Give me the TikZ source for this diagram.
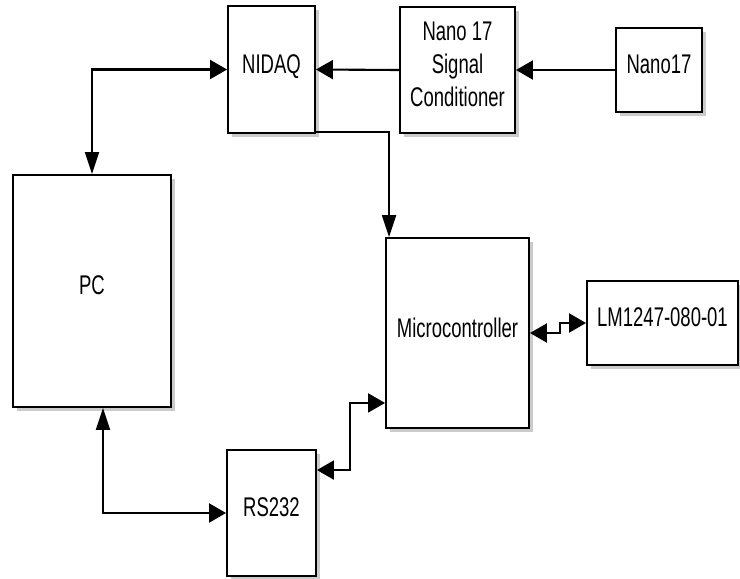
\documentclass[tikz,border=0pt]{standalone}
\usepackage{fontspec}
\setmainfont{Liberation Sans}[FakeStretch=0.685]
\usepackage{xcolor}
\definecolor{blkShadow}{gray}{0.55}
\usepackage{tikz}
\usetikzlibrary{calc,arrows.meta,shadows}

\begin{document}
\begin{tikzpicture}[x=1pt, y=-1pt,
  hd/.tip={Triangle[length=17pt,width=19pt]},
  vd/.tip={Triangle[length=22pt,width=14pt]},
  blk/.style={draw, line width=1.9pt, fill=white, inner sep=0pt,
    font=\fontsize{27}{33}\selectfont, align=center, text depth=11pt,
    drop shadow={shadow xshift=4pt, shadow yshift=-4pt, fill=blkShadow, opacity=0.45}},
  wire/.style={line width=2.1pt}]
  \useasboundingbox (0,0) rectangle (740,579);
  % ---- the blocks ----
  \node[blk, minimum width=87, minimum height=127] (nidaq) at (271.5,69.5) {NIDAQ};
  \node[blk, minimum width=115, minimum height=126] (cond) at (457.5,70) {Nano 17\\Signal\\Conditioner};
  \node[blk, minimum width=86, minimum height=84] (nano) at (659,70) {Nano17};
  \node[blk, minimum width=158, minimum height=232] (pc) at (92,291) {PC};
  \node[blk, minimum width=143, minimum height=190] (micro) at (457.5,333) {Microcontroller};
  \node[blk, minimum width=151, minimum height=84] (lm) at (662.5,323) {LM1247-080-01};
  \node[blk, minimum width=89, minimum height=126] (rs) at (271.5,513) {RS232};
  % ---- sensor chain, right to left ----
  \draw[wire, -{hd}] (nano.west) -- (cond.east);
  \draw[wire, -{hd}] (cond.west) -- (nidaq.east);
  % ---- links to the PC ----
  \draw[wire, {vd}-{hd}] (pc.north) |- (nidaq.west);
  \draw[wire, {vd}-{hd}] ($(pc.south)+(11,0)$) |- (rs.west);
  % ---- links to the microcontroller ----
  \draw[wire, -{vd}] ($(nidaq.south east)+(0,-2)$) -| ($(micro.north west)+(4,0)$);
  \draw[wire, {hd}-{hd}] ($(rs.north east)+(0,21)$) -- ++(33,0) |- ($(micro.south west)+(0,-26)$);
  \draw[wire, {hd}-{hd}] (micro.east) -- ++(30,0) |- (lm.west);
\end{tikzpicture}
\end{document}
